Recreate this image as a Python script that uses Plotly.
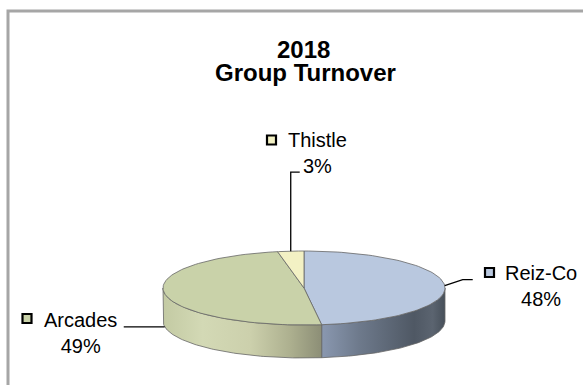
import numpy as np
import plotly.graph_objects as go

# --- data ---
companies = ["Reiz-Co", "Arcades", "Thistle"]
shares = [48, 49, 3]
title_lines = ["2018", "Group Turnover"]

# --- styling ---
top_colors = ["#b9c8df", "#c9d2a9", "#f3f1c4"]
side_scales = [
    [[0, "#8a98b0"], [0.3, "#6e7a8c"], [0.75, "#4f5864"], [0.9, "#5b6470"], [1, "#47505a"]],
    [[0, "#c3caa3"], [0.25, "#d3d9b5"], [0.55, "#ccd0ac"], [0.8, "#adb08f"], [1, "#8c8e76"]],
    None,
]
FONT = "Liberation Sans, Arial, sans-serif"
EDGE = "#666666"

# pie geometry in page pixels (y grows downward)
CX, CY, RX, RY, DEPTH = 304, 288, 141, 37, 33
W, H = 583, 385


def rim(a0, a1, n=90):
    """Points on the top ellipse, angles in degrees clockwise from 12 o'clock."""
    t = np.radians(np.linspace(a0, a1, n))
    return CX + RX * np.sin(t), CY - RY * np.cos(t)


total = float(sum(shares))
bounds = np.concatenate([[0.0], np.cumsum(shares) / total * 360.0])

fig = go.Figure()

# side walls (front half only)
for i, name in enumerate(companies):
    a0, a1 = bounds[i], bounds[i + 1]
    lo, hi = max(a0, 90.0), min(a1, 270.0)
    if hi <= lo or side_scales[i] is None:
        continue
    xs, ys = rim(lo, hi)
    px = np.concatenate([xs, xs[::-1], xs[:1]])
    py = np.concatenate([ys, ys[::-1] + DEPTH, ys[:1]])
    fig.add_trace(go.Scatter(
        x=px, y=py, mode="lines", fill="toself",
        fillgradient=dict(type="horizontal", colorscale=side_scales[i],
                          start=float(xs.min()), stop=float(xs.max())),
        line=dict(color=EDGE, width=0.8), hoverinfo="skip", showlegend=False,
    ))

# top faces
for i, name in enumerate(companies):
    xs, ys = rim(bounds[i], bounds[i + 1])
    px = np.concatenate([[CX], xs, [CX]])
    py = np.concatenate([[CY], ys, [CY]])
    fig.add_trace(go.Scatter(
        x=px, y=py, mode="lines", fill="toself", fillcolor=top_colors[i],
        line=dict(color=EDGE, width=0.8), name=name,
        hoverinfo="name", showlegend=False,
    ))

# data labels: leader path offsets, label centre, key-square centre
leader_offsets = {
    "Reiz-Co": [(0, 0), (18, -6), (28, -6)],
    "Arcades": [(0, DEPTH), (-41, DEPTH)],
    "Thistle": [(0, 0), (0, -79), (9, -79)],
}
label_centres = {"Reiz-Co": (541, 286), "Arcades": (80, 332.5), "Thistle": (317, 153)}
key_centres = {"Reiz-Co": (489.5, 272.5), "Arcades": (27, 318.5), "Thistle": (271.5, 140)}

for i, name in enumerate(companies):
    mid = (bounds[i] + bounds[i + 1]) / 2.0
    ax, ay = rim(mid, mid, 1)
    ax, ay = float(ax[0]), float(ay[0])
    path = leader_offsets[name]
    fig.add_trace(go.Scatter(
        x=[ax + dx for dx, dy in path], y=[ay + dy for dx, dy in path],
        mode="lines", line=dict(color="#000000", width=1.3),
        hoverinfo="skip", showlegend=False,
    ))
    kx, ky = key_centres[name]
    fig.add_trace(go.Scatter(
        x=[kx], y=[ky], mode="markers",
        marker=dict(symbol="square", size=9, color=top_colors[i],
                    line=dict(color="#000000", width=2.2)),
        hoverinfo="skip", showlegend=False,
    ))
    pct = round(shares[i] / total * 100)
    lx, ly = label_centres[name]
    fig.add_annotation(
        x=lx, y=ly, xref="x", yref="y", showarrow=False,
        text=f"{name}<br>{pct}%", align="center",
        xanchor="center", yanchor="middle",
        font=dict(family=FONT, size=20, color="#000000"),
    )

# title
for text, (tx, ty) in zip(title_lines, [(303.5, 49), (305.5, 72)]):
    fig.add_annotation(
        x=tx, y=ty, xref="x", yref="y", showarrow=False,
        text=f"<b>{text}</b>", xanchor="center", yanchor="middle",
        font=dict(family=FONT, size=24, color="#000000"),
    )

# chart border
fig.add_shape(type="rect", x0=8, y0=11, x1=W + 20, y1=H + 20,
              xref="x", yref="y", line=dict(color="#a6a6a6", width=3),
              fillcolor="rgba(0,0,0,0)", layer="above")

fig.update_layout(
    width=W, height=H, autosize=False,
    margin=dict(l=0, r=0, t=0, b=0),
    paper_bgcolor="#ffffff", plot_bgcolor="#ffffff",
    xaxis=dict(range=[0, W], visible=False, fixedrange=True),
    yaxis=dict(range=[H, 0], visible=False, fixedrange=True),
    showlegend=False,
)

fig.write_html("out.html")
